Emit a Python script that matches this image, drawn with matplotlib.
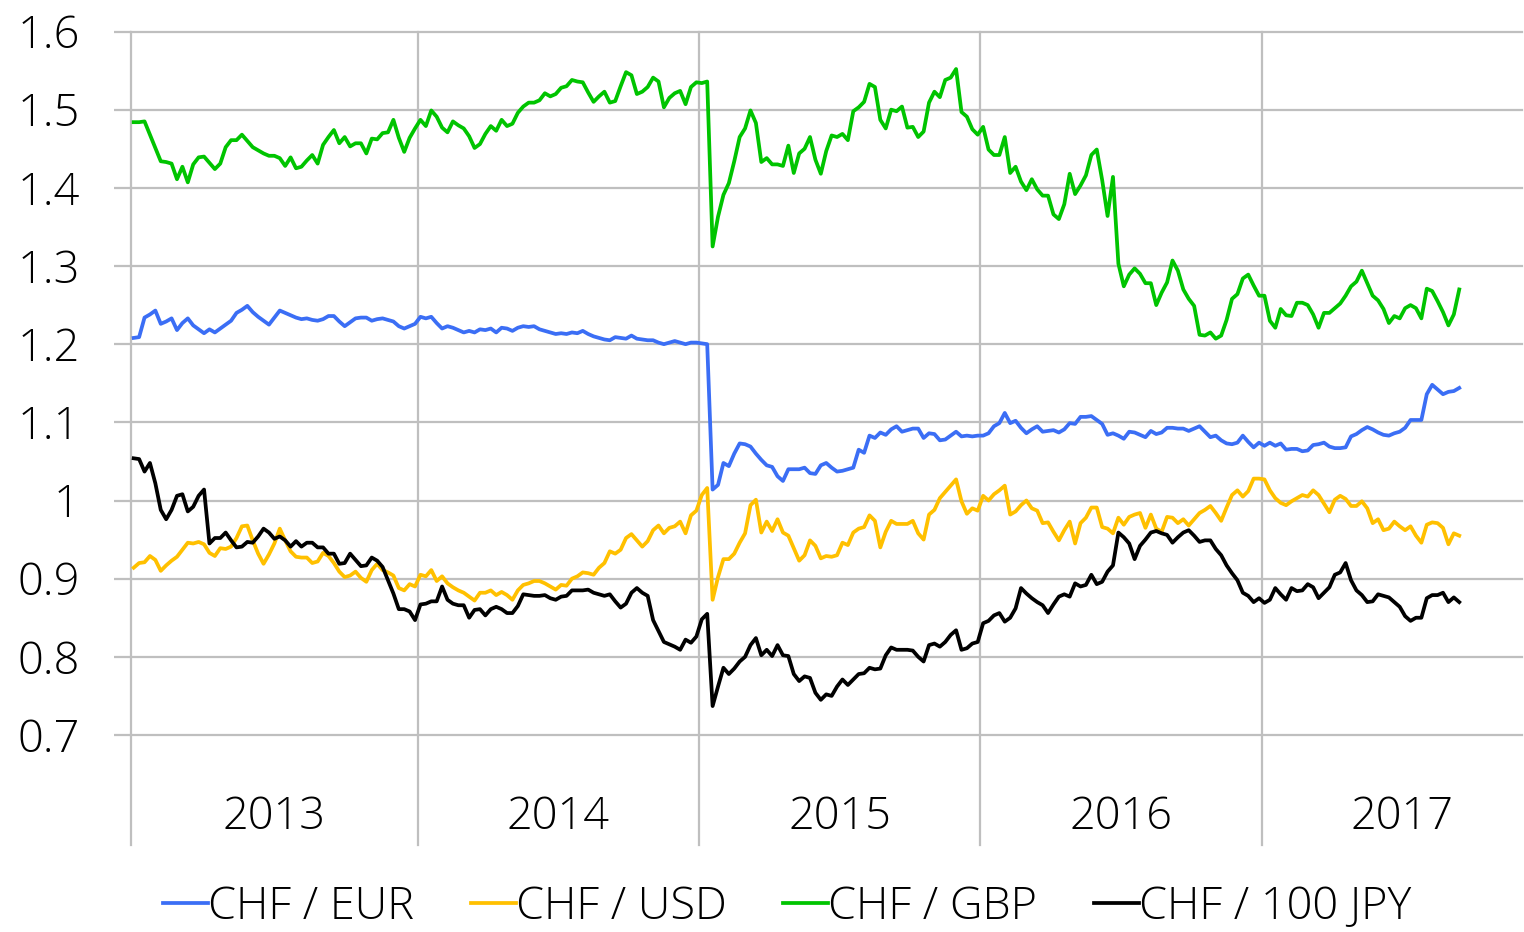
import numpy as np
import pandas as pd
import matplotlib
matplotlib.use("Agg")
import matplotlib.pyplot as plt
from matplotlib.lines import Line2D
import matplotlib.transforms as mtransforms

# ---------------- data ----------------
dates = pd.date_range("2013-01-01", periods=246, freq="7D")          # weekly observations
axis_dates = pd.date_range("2013-01-01", "2017-12-31", freq="7D")    # full category axis
series_names = ["CHF / EUR", "CHF / USD", "CHF / GBP", "CHF / 100 JPY"]
y_ticks = [0.7, 0.8, 0.9, 1.0, 1.1, 1.2, 1.3, 1.4, 1.5, 1.6]
y_tick_labels = ["0.7", "0.8", "0.9", "1", "1.1", "1.2", "1.3", "1.4", "1.5", "1.6"]

chf_eur = [
    1.208, 1.209, 1.234, 1.238, 1.243, 1.226, 1.229, 1.233, 1.218, 1.227,
    1.233, 1.224, 1.219, 1.214, 1.219, 1.215, 1.220, 1.225, 1.230, 1.240,
    1.244, 1.249, 1.241, 1.235, 1.230, 1.225, 1.234, 1.243, 1.240, 1.237,
    1.234, 1.232, 1.233, 1.231, 1.230, 1.232, 1.236, 1.236, 1.229, 1.223,
    1.228, 1.233, 1.234, 1.234, 1.230, 1.232, 1.233, 1.231, 1.229, 1.223,
    1.220, 1.223, 1.226, 1.235, 1.233,
    1.235, 1.227, 1.220, 1.223, 1.221, 1.218, 1.215, 1.217, 1.215, 1.219,
    1.218, 1.220, 1.215, 1.221, 1.220, 1.217, 1.221, 1.223, 1.222, 1.223,
    1.219, 1.217, 1.215, 1.213, 1.214, 1.213, 1.215, 1.214, 1.217, 1.213,
    1.210, 1.208, 1.206, 1.205, 1.209, 1.208, 1.207, 1.211, 1.207, 1.206,
    1.205, 1.205, 1.202, 1.200, 1.202, 1.204, 1.202, 1.200, 1.202, 1.202,
    1.201, 1.200,
    1.014, 1.020, 1.048, 1.044, 1.060, 1.073, 1.072, 1.069, 1.060, 1.052,
    1.045, 1.043, 1.031, 1.025, 1.040, 1.040, 1.040, 1.042, 1.035, 1.034,
    1.045, 1.048, 1.042, 1.037, 1.038, 1.040, 1.042, 1.065, 1.061, 1.083,
    1.080, 1.087, 1.084, 1.091, 1.095, 1.088, 1.090, 1.092, 1.092, 1.080,
    1.086, 1.085, 1.077, 1.078, 1.083, 1.088, 1.082, 1.083, 1.082, 1.083,
    1.083, 1.086, 1.095,
    1.099, 1.112, 1.099, 1.102, 1.093, 1.086, 1.091, 1.095, 1.088, 1.089,
    1.090, 1.087, 1.091, 1.099, 1.098, 1.107, 1.107, 1.108, 1.103, 1.098,
    1.084, 1.086, 1.083, 1.079, 1.088, 1.087, 1.084, 1.081, 1.089, 1.085,
    1.087, 1.093, 1.093, 1.092, 1.092, 1.089, 1.092, 1.095, 1.088, 1.081,
    1.083, 1.077, 1.073, 1.072, 1.074, 1.083, 1.075, 1.068, 1.074, 1.070,
    1.074, 1.070,
    1.073, 1.065, 1.066, 1.066, 1.063, 1.064, 1.071, 1.072, 1.074, 1.069,
    1.067, 1.067, 1.068, 1.082, 1.085, 1.090, 1.094, 1.091, 1.087, 1.084,
    1.083, 1.086, 1.088, 1.093, 1.103, 1.103, 1.103, 1.136, 1.148, 1.142,
    1.136, 1.139, 1.140, 1.144,
]

chf_usd = [
    0.914, 0.920, 0.921, 0.929, 0.924, 0.910, 0.917, 0.923, 0.928, 0.937,
    0.946, 0.945, 0.947, 0.944, 0.933, 0.929, 0.939, 0.938, 0.941, 0.952,
    0.967, 0.968, 0.949, 0.932, 0.919, 0.931, 0.945, 0.964, 0.949, 0.935,
    0.928, 0.927, 0.927, 0.920, 0.922, 0.933, 0.929, 0.920, 0.909, 0.902,
    0.904, 0.909, 0.901, 0.896, 0.911, 0.919, 0.911, 0.908, 0.904, 0.888,
    0.885, 0.893, 0.890, 0.905, 0.903,
    0.911, 0.897, 0.903, 0.894, 0.889, 0.885, 0.882, 0.877, 0.872, 0.882,
    0.882, 0.885, 0.879, 0.883, 0.879, 0.873, 0.885, 0.892, 0.894, 0.897,
    0.897, 0.894, 0.890, 0.886, 0.892, 0.891, 0.900, 0.903, 0.908, 0.907,
    0.905, 0.914, 0.920, 0.935, 0.932, 0.937, 0.952, 0.957, 0.949, 0.941,
    0.948, 0.962, 0.968, 0.958, 0.965, 0.967, 0.973, 0.958, 0.981, 0.987,
    1.007, 1.016,
    0.873, 0.902, 0.925, 0.925, 0.932, 0.946, 0.958, 0.994, 1.001, 0.959,
    0.973, 0.961, 0.976, 0.959, 0.955, 0.939, 0.923, 0.930, 0.949, 0.942,
    0.926, 0.929, 0.928, 0.930, 0.946, 0.943, 0.959, 0.964, 0.966, 0.981,
    0.974, 0.940, 0.960, 0.974, 0.970, 0.970, 0.970, 0.974, 0.958, 0.950,
    0.982, 0.988, 1.003, 1.011, 1.019, 1.027, 0.999, 0.983, 0.990, 0.987,
    1.006, 1.000, 1.008,
    1.013, 1.019, 0.982, 0.986, 0.994, 1.000, 0.990, 0.987, 0.971, 0.972,
    0.960, 0.949, 0.962, 0.973, 0.945, 0.971, 0.978, 0.991, 0.991, 0.966,
    0.964, 0.958, 0.978, 0.969, 0.979, 0.982, 0.984, 0.965, 0.982, 0.964,
    0.960, 0.979, 0.978, 0.971, 0.976, 0.968, 0.976, 0.984, 0.988, 0.993,
    0.984, 0.974, 0.991, 1.007, 1.013, 1.005, 1.012, 1.028, 1.028, 1.027,
    1.013, 1.003,
    0.997, 0.994, 0.999, 1.003, 1.007, 1.005, 1.013, 1.007, 0.996, 0.985,
    1.001, 1.006, 1.002, 0.993, 0.993, 0.999, 0.990, 0.971, 0.976, 0.962,
    0.964, 0.973, 0.967, 0.962, 0.967, 0.955, 0.946, 0.969, 0.972, 0.971,
    0.965, 0.944, 0.958, 0.955,
]

chf_gbp = [
    1.484, 1.484, 1.485, 1.468, 1.451, 1.434, 1.433, 1.431, 1.411, 1.427,
    1.407, 1.430, 1.439, 1.440, 1.432, 1.424, 1.431, 1.452, 1.461, 1.461,
    1.468, 1.460, 1.452, 1.448, 1.444, 1.441, 1.441, 1.438, 1.428, 1.439,
    1.425, 1.427, 1.435, 1.442, 1.431, 1.455, 1.465, 1.474, 1.457, 1.465,
    1.453, 1.457, 1.457, 1.444, 1.463, 1.462, 1.470, 1.471, 1.487, 1.464,
    1.446, 1.464, 1.476, 1.487, 1.479,
    1.499, 1.491, 1.477, 1.471, 1.485, 1.480, 1.476, 1.466, 1.451, 1.456,
    1.469, 1.479, 1.473, 1.487, 1.479, 1.482, 1.496, 1.504, 1.509, 1.509,
    1.512, 1.521, 1.517, 1.520, 1.528, 1.530, 1.538, 1.536, 1.535, 1.522,
    1.510, 1.517, 1.523, 1.509, 1.511, 1.530, 1.548, 1.544, 1.520, 1.523,
    1.529, 1.541, 1.536, 1.503, 1.515, 1.521, 1.524, 1.507, 1.529, 1.535,
    1.534, 1.536,
    1.325, 1.363, 1.391, 1.406, 1.434, 1.465, 1.476, 1.499, 1.483, 1.433,
    1.438, 1.430, 1.430, 1.428, 1.454, 1.419, 1.444, 1.450, 1.465, 1.436,
    1.418, 1.447, 1.467, 1.465, 1.469, 1.461, 1.498, 1.503, 1.510, 1.533,
    1.529, 1.487, 1.476, 1.500, 1.498, 1.504, 1.477, 1.478, 1.465, 1.472,
    1.509, 1.523, 1.516, 1.538, 1.541, 1.552, 1.497, 1.491, 1.475, 1.468,
    1.478, 1.449, 1.442,
    1.442, 1.465, 1.419, 1.427, 1.408, 1.397, 1.411, 1.398, 1.390, 1.390,
    1.366, 1.360, 1.379, 1.418, 1.392, 1.403, 1.416, 1.442, 1.449, 1.410,
    1.364, 1.414, 1.303, 1.274, 1.289, 1.297, 1.290, 1.278, 1.278, 1.250,
    1.266, 1.279, 1.307, 1.294, 1.270, 1.258, 1.249, 1.212, 1.211, 1.215,
    1.207, 1.211, 1.231, 1.258, 1.264, 1.284, 1.289, 1.275, 1.262, 1.262,
    1.230, 1.221,
    1.245, 1.237, 1.236, 1.253, 1.253, 1.250, 1.238, 1.221, 1.240, 1.240,
    1.246, 1.252, 1.262, 1.274, 1.280, 1.294, 1.278, 1.262, 1.256, 1.245,
    1.227, 1.236, 1.233, 1.246, 1.250, 1.246, 1.233, 1.271, 1.268, 1.255,
    1.241, 1.224, 1.238, 1.270,
]

chf_100jpy = [
    1.054, 1.053, 1.037, 1.048, 1.022, 0.988, 0.976, 0.988, 1.006, 1.008,
    0.986, 0.992, 1.006, 1.014, 0.945, 0.952, 0.952, 0.959, 0.949, 0.940,
    0.941, 0.947, 0.946, 0.954, 0.964, 0.959, 0.951, 0.954, 0.949, 0.941,
    0.948, 0.941, 0.946, 0.946, 0.940, 0.940, 0.932, 0.932, 0.919, 0.920,
    0.932, 0.924, 0.916, 0.917, 0.927, 0.923, 0.915, 0.898, 0.881, 0.861,
    0.861, 0.858, 0.847, 0.867, 0.868,
    0.871, 0.871, 0.890, 0.873, 0.868, 0.866, 0.866, 0.850, 0.860, 0.861,
    0.853, 0.861, 0.864, 0.861, 0.856, 0.856, 0.865, 0.880, 0.879, 0.878,
    0.878, 0.879, 0.875, 0.873, 0.877, 0.878, 0.885, 0.885, 0.885, 0.886,
    0.882, 0.880, 0.878, 0.880, 0.871, 0.863, 0.868, 0.882, 0.888, 0.882,
    0.878, 0.847, 0.833, 0.819, 0.816, 0.813, 0.809, 0.822, 0.818, 0.826,
    0.848, 0.855,
    0.737, 0.762, 0.786, 0.778, 0.785, 0.794, 0.800, 0.815, 0.824, 0.802,
    0.809, 0.801, 0.815, 0.802, 0.801, 0.778, 0.769, 0.775, 0.773, 0.754,
    0.745, 0.752, 0.750, 0.762, 0.771, 0.764, 0.771, 0.778, 0.779, 0.786,
    0.784, 0.785, 0.802, 0.812, 0.809, 0.809, 0.809, 0.808, 0.800, 0.794,
    0.815, 0.817, 0.813, 0.819, 0.828, 0.834, 0.809, 0.811, 0.817, 0.819,
    0.843, 0.846, 0.853,
    0.856, 0.845, 0.850, 0.862, 0.888, 0.881, 0.875, 0.870, 0.866, 0.856,
    0.867, 0.877, 0.880, 0.877, 0.894, 0.890, 0.892, 0.905, 0.893, 0.896,
    0.909, 0.917, 0.959, 0.953, 0.945, 0.925, 0.942, 0.950, 0.959, 0.961,
    0.958, 0.956, 0.946, 0.953, 0.959, 0.962, 0.955, 0.947, 0.949, 0.949,
    0.938, 0.930, 0.917, 0.907, 0.898, 0.882, 0.878, 0.870, 0.875, 0.869,
    0.873, 0.888,
    0.880, 0.873, 0.888, 0.884, 0.885, 0.893, 0.889, 0.875, 0.882, 0.889,
    0.905, 0.908, 0.920, 0.898, 0.885, 0.879, 0.870, 0.871, 0.880, 0.878,
    0.876, 0.870, 0.864, 0.852, 0.846, 0.850, 0.850, 0.875, 0.879, 0.879,
    0.882, 0.870, 0.876, 0.870,
]

# ---------------- style ----------------
colors = ["#3B6EF5", "#FFC000", "#00C400", "#000000"]
grid_color = "#BFBFBF"
plt.rcParams["font.family"] = ["Open Sans", "DejaVu Sans"]
FS = 32.5

W, H = 1524, 932
fig = plt.figure(figsize=(W / 100, H / 100), dpi=100)
ax = fig.add_axes([131 / W, 197 / H, 1391 / W, 703.5 / H])

x = np.arange(len(dates))
series = [chf_eur, chf_usd, chf_gbp, chf_100jpy]
for vals, col, name in zip(series, colors, series_names):
    ax.plot(x, vals, color=col, lw=2.7, label=name, solid_joinstyle="round", zorder=3)

ax.set_ylim(0.7, 1.6)
ax.set_xlim(-0.5, 256.6)
ax.set_yticks(y_ticks)
ax.set_yticklabels(y_tick_labels, fontweight="light")
ax.set_xticks([])
ax.yaxis.grid(True, color=grid_color, lw=1.6, zorder=0)
for gl in ax.get_ygridlines():
    gl.set_clip_on(False)
ax.tick_params(axis="y", length=12, width=1.6, color=grid_color, pad=25,
               labelsize=FS, labelcolor="#000000")
for s in ax.spines.values():
    s.set_visible(False)

# year separators (category axis boundaries) and year labels
trans = mtransforms.blended_transform_factory(ax.transData, ax.transAxes)
axis_years = np.array(axis_dates.year)
boundaries = [-0.5] + [i - 0.5 for i in range(1, len(axis_years)) if axis_years[i] != axis_years[i - 1]] + [len(axis_years) - 0.5]
for b in boundaries[:-1]:
    ax.add_line(Line2D([b, b], [-0.157, 1.0], transform=trans, color=grid_color,
                       lw=1.6, clip_on=False, zorder=1))
for i, yr in enumerate(sorted(set(axis_years))):
    c = (boundaries[i] + boundaries[i + 1]) / 2
    ax.text(c, -0.117, str(yr), transform=trans, ha="center", va="center",
            fontsize=FS, fontweight="light")

handles = [Line2D([], [], color=c, lw=2.7) for c in colors]
fig.legend(handles, series_names, loc="center", bbox_to_anchor=(787 / W, 24 / H),
           ncol=4, frameon=False, handlelength=1.0, handletextpad=0.0,
           columnspacing=1.25, borderpad=0.1,
           prop={"size": FS, "weight": "light"})

fig.savefig("out.png", dpi=100)
